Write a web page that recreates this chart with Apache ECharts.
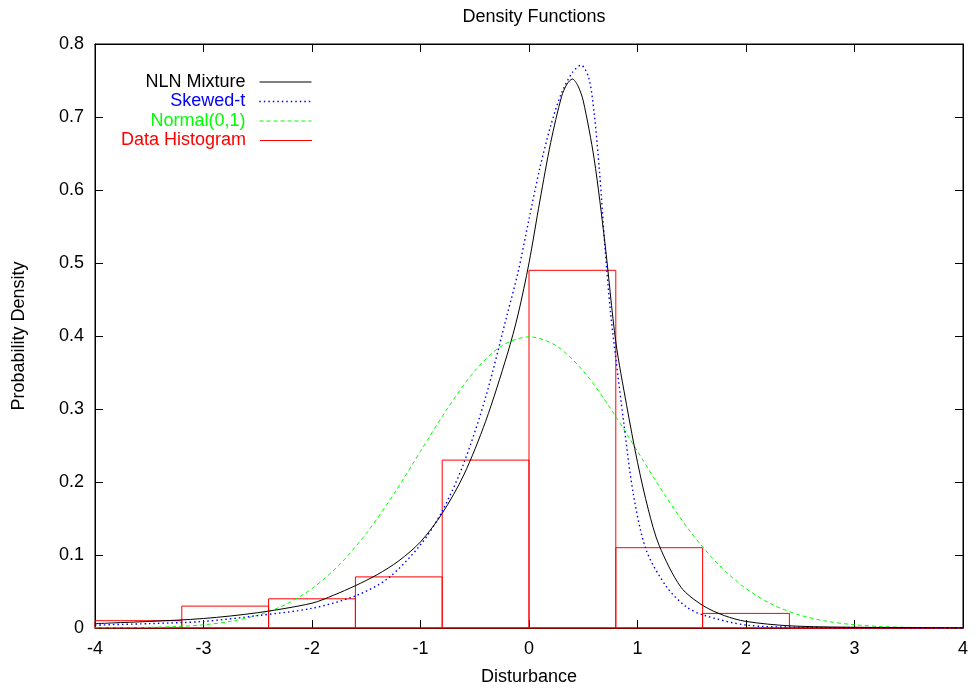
<!DOCTYPE html>
<html>
<head>
<meta charset="utf-8">
<script src="https://cdn.jsdelivr.net/npm/echarts@6/dist/echarts.min.js"></script>
<style>
  html, body { margin: 0; padding: 0; background: #fff; }
  #chart { width: 976px; height: 692px; }
</style>
</head>
<body>
<div id="chart"></div>
<script>
// curves as [x, density]
const nlnMixture = [
  [-4, 0.006], [-3.5, 0.009], [-3, 0.013], [-2.5, 0.021], [-2, 0.034],
  [-1.8, 0.045], [-1.6, 0.058], [-1.4, 0.073], [-1.2, 0.092], [-1, 0.118],
  [-0.8, 0.157], [-0.6, 0.21], [-0.4, 0.283], [-0.2, 0.375], [-0.1, 0.43],
  [0, 0.5], [0.1, 0.585], [0.2, 0.665], [0.3, 0.728], [0.35, 0.745],
  [0.4, 0.752], [0.45, 0.743], [0.5, 0.722], [0.6, 0.643], [0.7, 0.527],
  [0.8, 0.392], [0.9, 0.305], [1, 0.227], [1.1, 0.162], [1.2, 0.113],
  [1.4, 0.056], [1.6, 0.031], [1.8, 0.017], [2, 0.009], [2.4, 0.003],
  [3, 0.001], [4, 0.0003]
]
const skewedT = [
  [-4, 0.004], [-3.5, 0.006], [-3, 0.009], [-2.5, 0.017], [-2, 0.027],
  [-1.6, 0.044], [-1.3, 0.068], [-1, 0.114], [-0.8, 0.16], [-0.6, 0.226],
  [-0.4, 0.316], [-0.2, 0.43], [-0.1, 0.488], [0, 0.56], [0.1, 0.63],
  [0.2, 0.688], [0.3, 0.733], [0.4, 0.761], [0.48, 0.771], [0.55, 0.754],
  [0.6, 0.706], [0.65, 0.625], [0.7, 0.522], [0.75, 0.434], [0.8, 0.37],
  [0.87, 0.285], [0.96, 0.185], [1.08, 0.107], [1.27, 0.056], [1.45, 0.029],
  [1.6, 0.018], [2, 0.004], [2.5, 0.001], [3, 0.0003], [4, 0]
]
const normal01 = [
  [-4, 0.0001], [-3.75, 0.0004], [-3.5, 0.0009], [-3.25, 0.002], [-3, 0.0044],
  [-2.75, 0.0091], [-2.5, 0.0175], [-2.25, 0.0317], [-2, 0.054], [-1.75, 0.0863],
  [-1.5, 0.1295], [-1.25, 0.1826], [-1, 0.242], [-0.75, 0.3011], [-0.5, 0.3521],
  [-0.25, 0.3867], [0, 0.3989], [0.25, 0.3867], [0.5, 0.3521], [0.75, 0.3011],
  [1, 0.242], [1.25, 0.1826], [1.5, 0.1295], [1.75, 0.0863], [2, 0.054],
  [2.25, 0.0317], [2.5, 0.0175], [2.75, 0.0091], [3, 0.0044], [3.25, 0.002],
  [3.5, 0.0009], [3.75, 0.0004], [4, 0.0001]
]
// histogram bins: [from, to, height]
const histBins = [
  [-4, -3.2, 0.01], [-3.2, -2.4, 0.03], [-2.4, -1.6, 0.04], [-1.6, -0.8, 0.07],
  [-0.8, 0, 0.23], [0, 0.8, 0.49], [0.8, 1.6, 0.11], [1.6, 2.4, 0.02],
  [2.4, 3.2, 0], [3.2, 4, 0]
]
const seriesNames = ['NLN Mixture', 'Skewed-t', 'Normal(0,1)', 'Data Histogram']
const seriesColors = ['#000000', '#0000ff', '#00ff00', '#ff0000']
const lineTypes = ['solid', [1.5, 3], [4, 3]]
const lineWidths = [1, 1.4, 1]

const font = 'Liberation Sans, Arial, sans-serif'
const chart = echarts.init(document.getElementById('chart'))

// one legend per row so the line samples line up on the right
function makeLegend(i, top, extra) {
  return Object.assign({
    data: [seriesNames[i]],
    orient: 'vertical',
    right: 664,
    top: top,
    padding: 0,
    align: 'right',
    itemWidth: 52,
    itemHeight: 1,
    selectedMode: false,
    itemStyle: { opacity: 0 },
    lineStyle: { color: seriesColors[i], width: lineWidths[i], type: lineTypes[i] },
    textStyle: {
      color: seriesColors[i],
      fontSize: 18,
      fontFamily: font,
      padding: [0, 9, 0, 0]
    }
  }, extra || {})
}

const xBase = {
  type: 'value', min: -4, max: 4, interval: 1,
  axisLine: { onZero: false, lineStyle: { color: '#000', width: 1 } },
  axisTick: { show: true, inside: true, length: 8, lineStyle: { color: '#000' } },
  splitLine: { show: false }
}
const yBase = {
  type: 'value', min: 0, max: 0.8, interval: 0.1,
  axisLine: { show: true, onZero: false, lineStyle: { color: '#000', width: 1 } },
  axisTick: { show: true, inside: true, length: 8, lineStyle: { color: '#000' } },
  splitLine: { show: false }
}

chart.setOption({
  backgroundColor: '#fff',
  animation: false,
  title: {
    text: 'Density Functions',
    left: 529,
    textAlign: 'center',
    top: 3,
    textStyle: { fontSize: 18, fontWeight: 'normal', color: '#000', fontFamily: font }
  },
  legend: [
    makeLegend(0, 73),
    makeLegend(1, 92.5),
    makeLegend(2, 112),
    makeLegend(3, 131.5, {
      data: [{ name: seriesNames[3], icon: 'rect' }],
      itemStyle: { color: seriesColors[3] },
      lineStyle: {}
    })
  ],
  grid: { left: 95, right: 13, top: 44, bottom: 64, show: true, borderColor: '#000', borderWidth: 1 },
  xAxis: [
    Object.assign({}, xBase, {
      position: 'bottom',
      name: 'Disturbance',
      nameLocation: 'middle',
      nameGap: 40,
      nameTextStyle: { fontSize: 18, color: '#000', fontFamily: font },
      axisLabel: { fontSize: 18, color: '#000', margin: 12, fontFamily: font }
    }),
    Object.assign({}, xBase, { position: 'top', axisLabel: { show: false } })
  ],
  yAxis: [
    Object.assign({}, yBase, {
      position: 'left',
      name: 'Probability Density',
      nameLocation: 'middle',
      nameGap: 67,
      nameTextStyle: { fontSize: 18, color: '#000', fontFamily: font },
      axisLabel: { fontSize: 18, color: '#000', margin: 11, fontFamily: font }
    }),
    Object.assign({}, yBase, { position: 'right', axisLabel: { show: false } })
  ],
  series: [{
    name: seriesNames[3],
    type: 'custom',
    xAxisIndex: 0,
    yAxisIndex: 0,
    itemStyle: { color: seriesColors[3] },
    encode: { x: [0, 1], y: 2 },
    renderItem(params, api) {
      const p0 = api.coord([api.value(0), 0])
      const p1 = api.coord([api.value(1), api.value(2)])
      return {
        type: 'rect',
        shape: { x: p0[0], y: p1[1], width: p1[0] - p0[0], height: p0[1] - p1[1] },
        style: { fill: 'none', stroke: seriesColors[3], lineWidth: 1 }
      }
    },
    data: histBins,
    z: 1
  }, {
    name: seriesNames[2],
    type: 'line',
    symbol: 'none',
    smooth: 0.3,
    lineStyle: { color: seriesColors[2], width: lineWidths[2], type: lineTypes[2] },
    itemStyle: { color: seriesColors[2] },
    data: normal01,
    z: 2
  }, {
    name: seriesNames[1],
    type: 'line',
    symbol: 'none',
    smooth: 0.3,
    lineStyle: { color: seriesColors[1], width: lineWidths[1], type: lineTypes[1] },
    itemStyle: { color: seriesColors[1] },
    data: skewedT,
    z: 3
  }, {
    name: seriesNames[0],
    type: 'line',
    symbol: 'none',
    smooth: 0.3,
    lineStyle: { color: seriesColors[0], width: lineWidths[0] },
    itemStyle: { color: seriesColors[0] },
    data: nlnMixture,
    z: 4
  }]
})
</script>
</body>
</html>
